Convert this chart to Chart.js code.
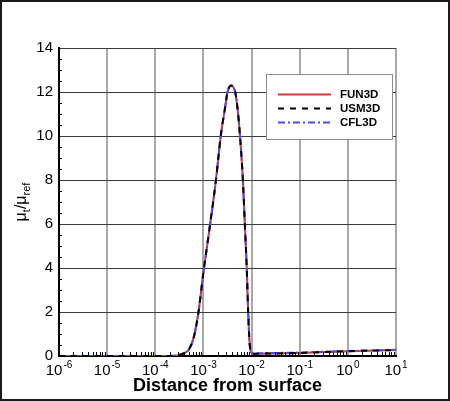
<!DOCTYPE html>
<html>
<head>
<meta charset="utf-8">
<script src="https://cdn.jsdelivr.net/npm/chart.js@4/dist/chart.umd.min.js"></script>
<style>
  html, body { margin: 0; padding: 0; background: #fff; }
  canvas { display: block; }
</style>
</head>
<body>
<canvas id="chart" width="450" height="401"></canvas>
<script>
// distance from surface (shared by all three codes)
const distance = [1e-6, 1e-5, 1e-4, 2e-4, 2.5e-4, 3.2e-4, 4e-4, 5e-4, 6.3e-4, 7.9e-4,
  1e-3, 1.38e-3, 1.82e-3, 2.29e-3, 2.82e-3, 3.16e-3, 3.5e-3, 3.82e-3, 4.2e-3, 4.57e-3,
  5.2e-3, 5.75e-3, 6.6e-3, 7.24e-3, 7.94e-3, 8.5e-3, 9.1e-3, 9.8e-3, 1.1e-2, 2e-2,
  1e-1, 1, 10];

const fun3d = [0, 0, 0, 0.005, 0.015, 0.05, 0.13, 0.3, 0.85, 2.0,
  3.8, 6.0, 8.0, 10.0, 11.3, 12.0, 12.25, 12.3, 12.2, 12.0,
  11.1, 10.0, 8.0, 6.0, 4.0, 2.0, 0.6, 0.15, 0.1, 0.11,
  0.14, 0.22, 0.27];

const usm3d = [0, 0, 0, 0.005, 0.015, 0.05, 0.13, 0.3, 0.85, 2.0,
  3.8, 6.0, 8.0, 10.0, 11.3, 12.0, 12.25, 12.3, 12.2, 12.0,
  11.1, 10.0, 8.0, 6.0, 4.0, 2.0, 0.6, 0.15, 0.1, 0.11,
  0.14, 0.22, 0.27];

const cfl3d = [0, 0, 0, 0.005, 0.015, 0.05, 0.13, 0.3, 0.85, 2.0,
  3.8, 6.0, 8.0, 10.0, 11.3, 12.0, 12.25, 12.3, 12.2, 12.0,
  11.1, 10.0, 8.0, 6.0, 4.0, 2.0, 0.6, 0.15, 0.12, 0.13,
  0.16, 0.23, 0.28];

const xTicks = [1e-6, 1e-5, 1e-4, 1e-3, 1e-2, 1e-1, 1, 10];
const xTickExponents = ['-6', '-5', '-4', '-3', '-2', '-1', '0', '1'];
const yTicks = [0, 2, 4, 6, 8, 10, 12, 14];

const seriesNames = ['FUN3D', 'USM3D', 'CFL3D'];
const seriesColors = ['#d03a3a', '#000000', '#4b4be6'];
const seriesDash = [[], [6, 6], [7, 3, 2, 3]];

function pts(ys) {
  return distance.map((d, i) => ({ x: d, y: ys[i] }));
}

const FONT = '"Liberation Sans", Arial, sans-serif';

// frame, minor ticks, power-of-ten labels, y title with subscripts, legend box
const decorPlugin = {
  id: 'decor',
  beforeDraw(chart) {
    const c = chart.ctx;
    c.save();
    c.fillStyle = '#fff';
    c.fillRect(0, 0, chart.width, chart.height);
    c.restore();
  },
  afterDatasetsDraw(chart) {
    const c = chart.ctx;
    const xs = chart.scales.x, ys = chart.scales.y;
    const a = chart.chartArea;
    c.save();
    c.strokeStyle = '#000';
    c.lineWidth = 1;
    // minor x ticks (inward)
    for (let k = -6; k < 1; k++) {
      for (let m = 2; m <= 9; m++) {
        const px = Math.round(xs.getPixelForValue(m * Math.pow(10, k))) + 0.5;
        c.beginPath();
        c.moveTo(px, a.bottom);
        c.lineTo(px, a.bottom - 4);
        c.stroke();
      }
    }
    // minor y ticks
    for (let v = 0.5; v < 14; v += 0.5) {
      if (v % 2 === 0) continue;
      const py = Math.round(ys.getPixelForValue(v)) + 0.5;
      c.beginPath();
      c.moveTo(a.left, py);
      c.lineTo(a.left + 3, py);
      c.stroke();
    }
    c.restore();
  },
  afterDraw(chart) {
    const c = chart.ctx;
    const a = chart.chartArea;
    const xs = chart.scales.x;

    // x tick labels: 10 with superscript exponent
    c.save();
    c.fillStyle = '#000';
    c.textBaseline = 'alphabetic';
    c.textAlign = 'left';
    const baseFont = '15px ' + FONT, expFont = '10px ' + FONT;
    xTicks.forEach((v, i) => {
      const px = xs.getPixelForValue(v);
      c.font = baseFont;
      const wb = c.measureText('10').width;
      c.font = expFont;
      const we = c.measureText(xTickExponents[i]).width;
      const x0 = px - (wb + we + 1) / 2;
      c.font = baseFont;
      c.fillText('10', x0, a.bottom + 19);
      c.font = expFont;
      c.fillText(xTickExponents[i], x0 + wb + 1, a.bottom + 12);
    });
    c.restore();

    // y axis title: mu_t / mu_ref
    c.save();
    c.translate(21, (a.top + a.bottom) / 2);
    c.rotate(-Math.PI / 2);
    c.fillStyle = '#000';
    c.textBaseline = 'alphabetic';
    const big = '16px ' + FONT, small = '11px ' + FONT;
    const parts = [['μ', big, 0], ['t', small, 4], ['/μ', big, 0], ['ref', small, 4]];
    let w = 0;
    parts.forEach(p => { c.font = p[1]; w += c.measureText(p[0]).width; });
    let x = -w / 2;
    parts.forEach(p => {
      c.font = p[1];
      c.fillText(p[0], x, 5 + p[2]);
      x += c.measureText(p[0]).width;
    });
    c.restore();

    // legend
    c.save();
    const lx = 266.5, ly = 74.5, lw = 126, lh = 65;
    c.fillStyle = '#fff';
    c.fillRect(lx, ly, lw, lh);
    c.strokeStyle = '#8c8c8c';
    c.lineWidth = 1;
    c.strokeRect(lx, ly, lw, lh);
    const rows = [94.5, 108.5, 122.5];
    c.font = 'bold 11.5px ' + FONT;
    c.textBaseline = 'middle';
    seriesNames.forEach((name, i) => {
      c.strokeStyle = seriesColors[i];
      c.lineWidth = 2;
      c.setLineDash(seriesDash[i]);
      c.beginPath();
      c.moveTo(278, rows[i]);
      c.lineTo(331, rows[i]);
      c.stroke();
      c.setLineDash([]);
      c.fillStyle = '#000';
      c.fillText(name, 340, rows[i] + 0.5);
    });
    c.restore();

    // outer frame
    c.save();
    c.strokeStyle = '#1a1a1a';
    c.lineWidth = 2;
    c.strokeRect(1, 1, chart.width - 2, chart.height - 2);
    c.restore();
  }
};

new Chart(document.getElementById('chart'), {
  type: 'line',
  data: {
    datasets: [
      { label: seriesNames[0], data: pts(fun3d), borderColor: seriesColors[0], borderDash: seriesDash[0], order: 3 },
      { label: seriesNames[1], data: pts(usm3d), borderColor: seriesColors[1], borderDash: seriesDash[1], order: 1 },
      { label: seriesNames[2], data: pts(cfl3d), borderColor: seriesColors[2], borderDash: seriesDash[2], order: 2 }
    ]
  },
  options: {
    responsive: false,
    animation: false,
    devicePixelRatio: 1,
    elements: {
      point: { radius: 0 },
      line: { borderWidth: 2, cubicInterpolationMode: 'monotone', fill: false }
    },
    layout: { padding: { top: 48, right: 54, left: 0, bottom: 0 } },
    plugins: {
      legend: { display: false },
      tooltip: { enabled: false }
    },
    scales: {
      x: {
        type: 'logarithmic',
        min: 1e-6,
        max: 10,
        afterBuildTicks(scale) { scale.ticks = xTicks.map(v => ({ value: v })); },
        afterFit(scale) { scale.height = 45; },
        ticks: { display: false },
        grid: {
          drawTicks: false,
          color: '#a8a8a8',
          lineWidth: 2
        },
        border: { color: '#000', width: 2 },
        title: {
          display: true,
          text: 'Distance from surface',
          color: '#000',
          font: { family: FONT, size: 18, weight: 'bold' },
          padding: { top: 0, bottom: 4 }
        }
      },
      y: {
        type: 'linear',
        min: 0,
        max: 14,
        afterBuildTicks(scale) { scale.ticks = yTicks.map(v => ({ value: v })); },
        afterFit(scale) { scale.width = 59; },
        ticks: {
          color: '#000',
          font: { family: FONT, size: 15 },
          padding: 6
        },
        grid: {
          drawTicks: false,
          color: '#3c3c3c',
          lineWidth: 1
        },
        border: { color: '#000', width: 2 }
      }
    }
  },
  plugins: [decorPlugin]
});
</script>
</body>
</html>
